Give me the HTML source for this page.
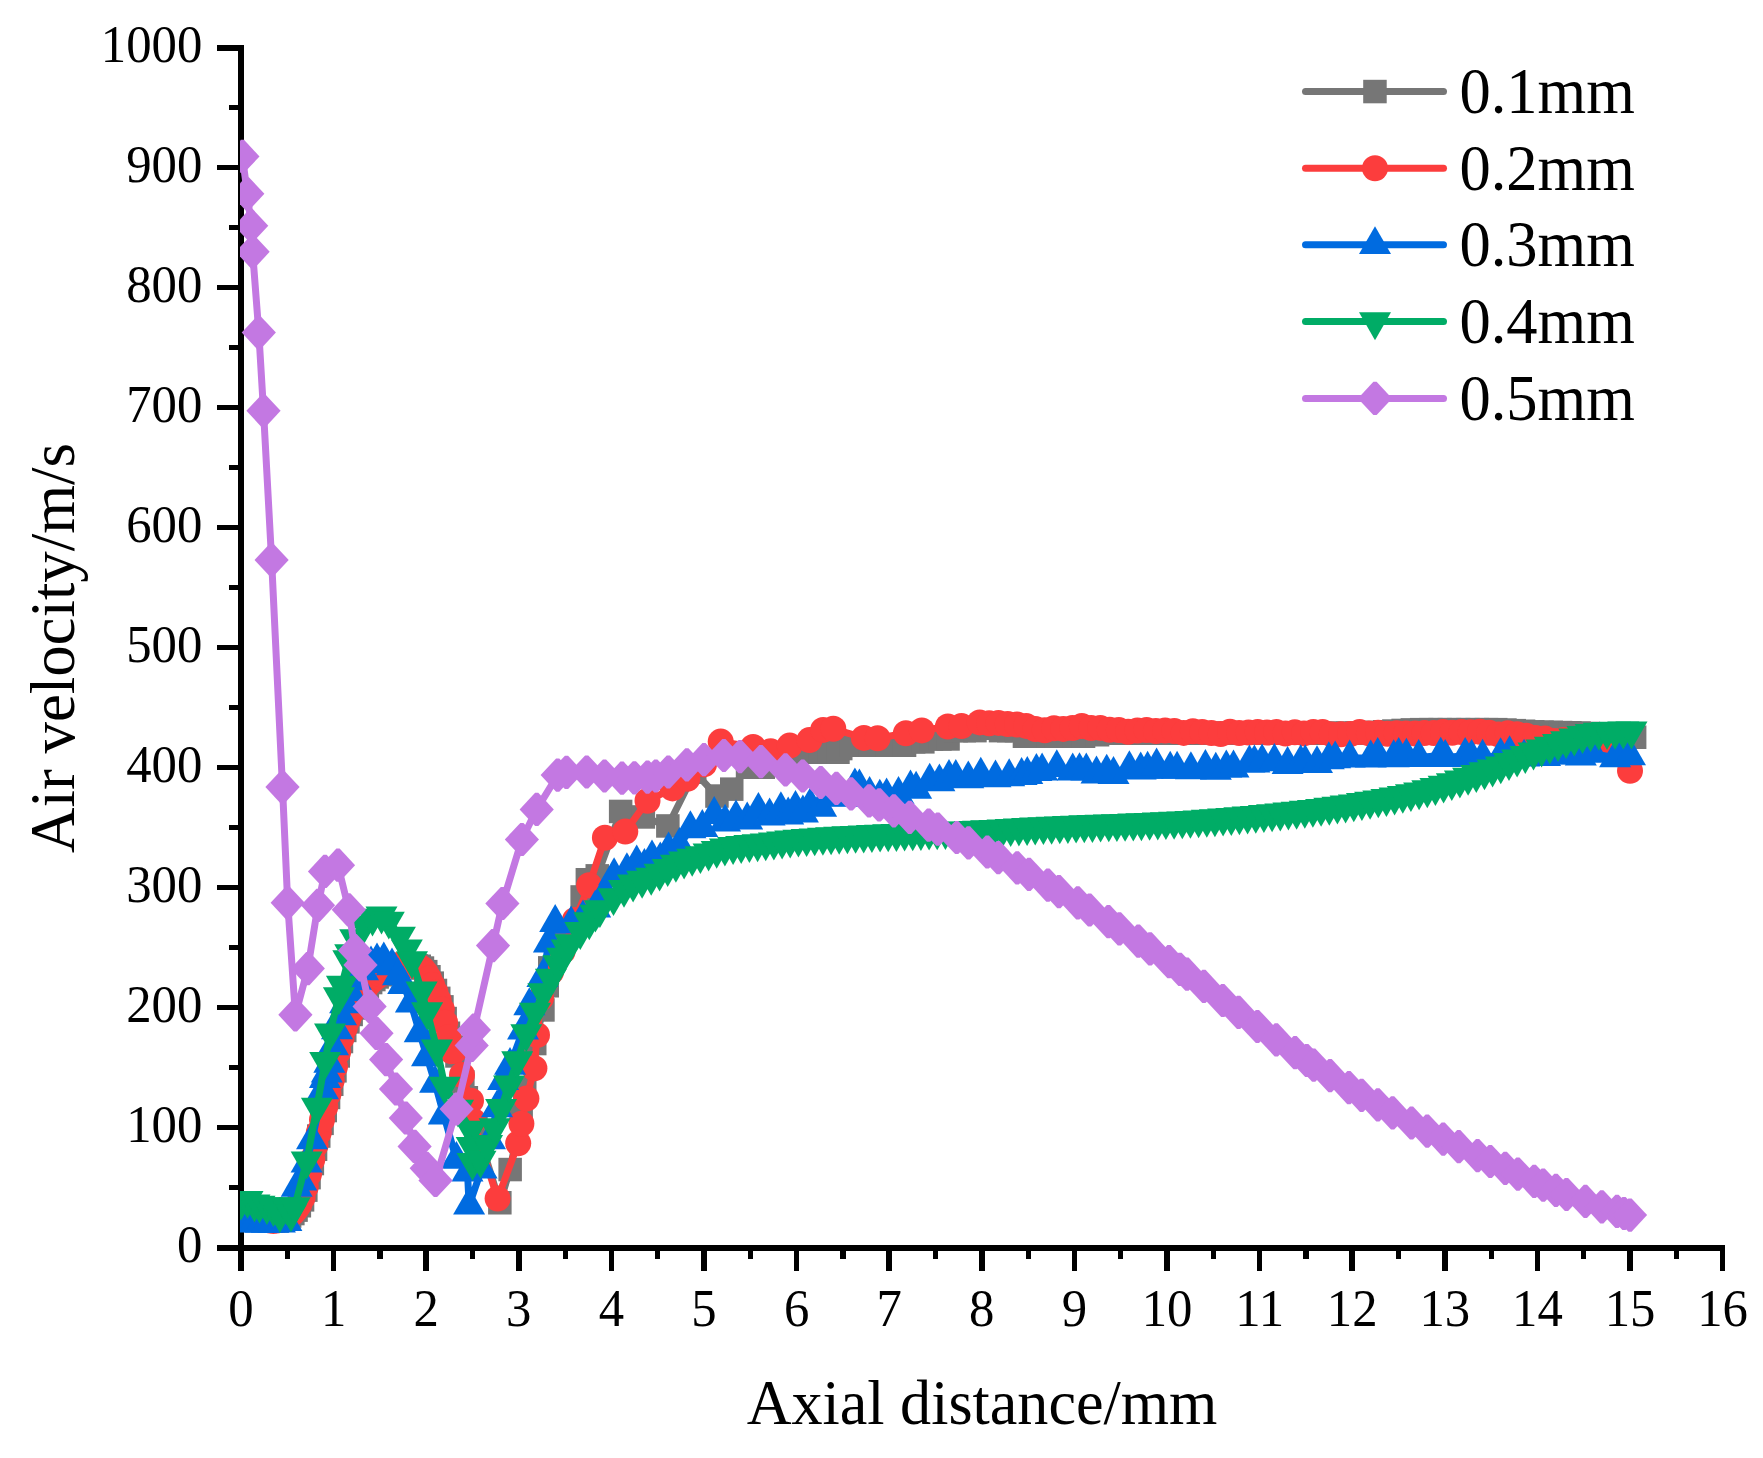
<!DOCTYPE html>
<html lang="en"><head><meta charset="utf-8"><title>Air velocity vs axial distance</title>
<style>
html,body{margin:0;padding:0;background:#fff;}
body{width:1763px;height:1458px;overflow:hidden;}
svg{display:block;}
text{font-family:"Liberation Serif","Times New Roman",serif;fill:#000;}
.tk{font-size:50.75px;}
.ti{font-size:62.1px;}
.tl{font-size:62.5px;}
.ty{font-size:62.8px;}
</style></head><body>
<svg width="1763" height="1458" viewBox="0 0 1763 1458">
<rect width="1763" height="1458" fill="#fff"/>
<defs><clipPath id="pc"><rect x="240" y="40" width="1500" height="1208.5"/></clipPath></defs>

<g fill="#000" shape-rendering="crispEdges">
<rect x="238" y="45" width="6" height="1206"/>
<rect x="217" y="1245" width="1508" height="5.5"/>
<rect x="229" y="1184.9" width="10" height="5.2"/>
<rect x="217" y="1124.9" width="22" height="5.2"/>
<rect x="229" y="1064.9" width="10" height="5.2"/>
<rect x="217" y="1004.9" width="22" height="5.2"/>
<rect x="229" y="944.9" width="10" height="5.2"/>
<rect x="217" y="884.9" width="22" height="5.2"/>
<rect x="229" y="824.9" width="10" height="5.2"/>
<rect x="217" y="764.9" width="22" height="5.2"/>
<rect x="229" y="704.9" width="10" height="5.2"/>
<rect x="217" y="644.9" width="22" height="5.2"/>
<rect x="229" y="584.9" width="10" height="5.2"/>
<rect x="217" y="524.9" width="22" height="5.2"/>
<rect x="229" y="464.9" width="10" height="5.2"/>
<rect x="217" y="404.9" width="22" height="5.2"/>
<rect x="229" y="344.9" width="10" height="5.2"/>
<rect x="217" y="284.9" width="22" height="5.2"/>
<rect x="229" y="224.9" width="10" height="5.2"/>
<rect x="217" y="164.9" width="22" height="5.2"/>
<rect x="229" y="104.9" width="10" height="5.2"/>
<rect x="217" y="44.9" width="22" height="6.2"/>
<rect x="238.0" y="1248" width="6" height="23"/>
<rect x="284.7" y="1248" width="5.2" height="11"/>
<rect x="330.9" y="1248" width="5.5" height="23"/>
<rect x="377.3" y="1248" width="5.2" height="11"/>
<rect x="423.4" y="1248" width="5.5" height="23"/>
<rect x="469.9" y="1248" width="5.2" height="11"/>
<rect x="516.0" y="1248" width="5.5" height="23"/>
<rect x="562.5" y="1248" width="5.2" height="11"/>
<rect x="608.6" y="1248" width="5.5" height="23"/>
<rect x="655.1" y="1248" width="5.2" height="11"/>
<rect x="701.2" y="1248" width="5.5" height="23"/>
<rect x="747.7" y="1248" width="5.2" height="11"/>
<rect x="793.8" y="1248" width="5.5" height="23"/>
<rect x="840.3" y="1248" width="5.2" height="11"/>
<rect x="886.4" y="1248" width="5.5" height="23"/>
<rect x="932.9" y="1248" width="5.2" height="11"/>
<rect x="979.0" y="1248" width="5.5" height="23"/>
<rect x="1025.5" y="1248" width="5.2" height="11"/>
<rect x="1071.7" y="1248" width="5.5" height="23"/>
<rect x="1118.1" y="1248" width="5.2" height="11"/>
<rect x="1164.2" y="1248" width="5.5" height="23"/>
<rect x="1210.7" y="1248" width="5.2" height="11"/>
<rect x="1256.8" y="1248" width="5.5" height="23"/>
<rect x="1303.3" y="1248" width="5.2" height="11"/>
<rect x="1349.4" y="1248" width="5.5" height="23"/>
<rect x="1395.9" y="1248" width="5.2" height="11"/>
<rect x="1442.0" y="1248" width="5.5" height="23"/>
<rect x="1488.5" y="1248" width="5.2" height="11"/>
<rect x="1534.6" y="1248" width="5.5" height="23"/>
<rect x="1581.1" y="1248" width="5.2" height="11"/>
<rect x="1627.2" y="1248" width="5.5" height="23"/>
<rect x="1673.7" y="1248" width="5.2" height="11"/>
<rect x="1719.8" y="1248" width="5.5" height="23"/>
</g>
<g class="tk" text-anchor="end">
<text transform="translate(202.3 1262.2) scale(1 1.03)">0</text>
<text transform="translate(202.3 1142.2) scale(1 1.03)">100</text>
<text transform="translate(202.3 1022.2) scale(1 1.03)">200</text>
<text transform="translate(202.3 902.2) scale(1 1.03)">300</text>
<text transform="translate(202.3 782.2) scale(1 1.03)">400</text>
<text transform="translate(202.3 662.2) scale(1 1.03)">500</text>
<text transform="translate(202.3 542.2) scale(1 1.03)">600</text>
<text transform="translate(202.3 422.2) scale(1 1.03)">700</text>
<text transform="translate(202.3 302.2) scale(1 1.03)">800</text>
<text transform="translate(202.3 182.2) scale(1 1.03)">900</text>
<text transform="translate(202.3 62.2) scale(1 1.03)">1000</text>
</g>
<g class="tk" text-anchor="middle">
<text transform="translate(241.0 1325.6) scale(1 1.03)">0</text>
<text transform="translate(333.6 1325.6) scale(1 1.03)">1</text>
<text transform="translate(426.2 1325.6) scale(1 1.03)">2</text>
<text transform="translate(518.8 1325.6) scale(1 1.03)">3</text>
<text transform="translate(611.4 1325.6) scale(1 1.03)">4</text>
<text transform="translate(704.0 1325.6) scale(1 1.03)">5</text>
<text transform="translate(796.6 1325.6) scale(1 1.03)">6</text>
<text transform="translate(889.2 1325.6) scale(1 1.03)">7</text>
<text transform="translate(981.8 1325.6) scale(1 1.03)">8</text>
<text transform="translate(1074.4 1325.6) scale(1 1.03)">9</text>
<text transform="translate(1167.0 1325.6) scale(1 1.03)">10</text>
<text transform="translate(1259.6 1325.6) scale(1 1.03)">11</text>
<text transform="translate(1352.2 1325.6) scale(1 1.03)">12</text>
<text transform="translate(1444.8 1325.6) scale(1 1.03)">13</text>
<text transform="translate(1537.4 1325.6) scale(1 1.03)">14</text>
<text transform="translate(1630.0 1325.6) scale(1 1.03)">15</text>
<text transform="translate(1722.6 1325.6) scale(1 1.03)">16</text>
</g>
<text class="ti" text-anchor="middle" transform="translate(982 1424) scale(1 1.03)">Axial distance/mm</text>
<text class="ty" text-anchor="middle" transform="translate(74 648) scale(1.02 1) rotate(-90)">Air velocity/m/s</text>
<g clip-path="url(#pc)">
<g fill="#767676" stroke="none">
<path d="M241.0 1212.0 L244.2 1213.2 L247.5 1214.4 L250.7 1215.5 L254.0 1216.5 L257.2 1217.4 L260.4 1218.2 L263.7 1219.1 L266.9 1219.9 L270.2 1220.5 L273.4 1220.9 L276.7 1220.7 L279.9 1220.1 L283.1 1219.0 L286.4 1217.6 L289.6 1216.1 L292.9 1213.6 L296.1 1210.1 L299.3 1205.7 L302.6 1199.9 L305.8 1190.2 L309.1 1177.6 L312.3 1163.5 L315.5 1149.2 L318.8 1136.0 L322.0 1123.4 L325.3 1110.5 L328.5 1097.5 L331.7 1084.3 L335.0 1070.8 L338.2 1056.0 L341.5 1041.5 L344.7 1030.5 L348.0 1021.9 L351.2 1014.5 L354.4 1007.9 L357.7 1002.0 L360.9 996.3 L364.2 991.1 L367.4 986.4 L370.6 982.5 L373.9 979.5 L377.1 977.0 L380.4 974.8 L383.6 972.8 L386.8 971.0 L390.1 969.2 L393.3 967.4 L396.6 965.8 L399.8 964.9 L403.1 964.8 L406.3 964.9 L409.5 965.1 L412.8 965.4 L416.0 965.8 L419.3 966.3 L422.5 968.1 L425.7 971.7 L429.0 976.8 L432.2 983.1 L435.5 990.4 L438.7 998.4 L441.9 1006.8 L445.2 1018.6 L448.4 1033.3 L451.7 1047.1 L457.0 1056.0 L462.8 1082.0 L466.4 1097.8 L476.0 1126.0 L499.8 1202.7 L510.1 1169.5 L521.1 1113.6 L524.7 1089.1 L534.8 1043.5 L543.0 1010.0 L547.3 985.8 L549.7 967.9 L565.0 935.0 L582.1 897.0 L587.4 879.7 L597.2 875.9 L620.7 811.4 L643.3 817.0 L667.9 826.0 L694.7 772.2 L717.0 796.1 L731.8 789.1 L747.5 767.3 L763.3 767.3 L782.7 757.2 L793.8 752.4 L805.4 752.3 L812.7 752.3 L820.0 752.3 L829.0 752.3 L838.0 752.3 L840.7 748.5 L851.4 745.3 L862.1 745.3 L870.4 745.3 L878.7 745.3 L887.0 745.3 L895.3 745.3 L904.5 745.3 L913.7 741.9 L922.9 741.9 L931.5 739.0 L940.0 739.0 L948.1 739.0 L956.1 730.6 L964.2 730.6 L975.0 730.6 L984.2 728.3 L992.4 728.3 L1000.5 730.6 L1008.7 730.6 L1016.6 730.6 L1024.4 736.3 L1032.3 736.3 L1040.2 736.3 L1048.0 736.3 L1055.9 736.3 L1065.1 736.3 L1074.4 736.3 L1083.6 736.3 L1097.5 734.8 L1106.8 733.2 L1116.1 733.2 L1125.3 733.2 L1134.6 733.2 L1143.8 733.2 L1153.1 733.2 L1162.4 733.2 L1171.6 733.2 L1180.9 733.2 L1190.2 733.2 L1199.4 733.2 L1208.7 733.2 L1217.9 733.2 L1227.2 733.2 L1236.4 733.2 L1245.7 733.2 L1255.0 733.2 L1264.2 733.2 L1273.5 733.2 L1282.8 733.2 L1292.0 733.2 L1301.3 733.2 L1310.5 733.2 L1319.8 733.2 L1329.0 733.2 L1338.3 733.2 L1347.6 733.2 L1356.8 733.2 L1366.1 732.9 L1375.3 732.4 L1384.6 731.7 L1393.9 731.1 L1403.1 730.4 L1412.4 729.9 L1421.6 729.6 L1430.9 729.6 L1440.2 729.6 L1449.4 729.6 L1458.7 729.6 L1467.9 729.6 L1477.2 729.6 L1486.5 729.6 L1495.7 729.7 L1505.0 730.0 L1514.2 730.6 L1523.5 731.2 L1532.8 731.8 L1542.0 732.1 L1551.3 732.4 L1560.5 732.6 L1569.8 732.8 L1579.1 733.0 L1588.3 733.4 L1597.6 733.9 L1606.8 734.6 L1616.1 735.4 L1625.4 736.3 L1634.6 737.3" fill="none" stroke="#767676" stroke-width="7" stroke-linejoin="round" stroke-linecap="round"/>
<rect x="229.2" y="1200.2" width="23.5" height="23.5"/>
<rect x="232.5" y="1201.5" width="23.5" height="23.5"/>
<rect x="235.7" y="1202.7" width="23.5" height="23.5"/>
<rect x="239.0" y="1203.8" width="23.5" height="23.5"/>
<rect x="242.2" y="1204.8" width="23.5" height="23.5"/>
<rect x="245.5" y="1205.7" width="23.5" height="23.5"/>
<rect x="248.7" y="1206.5" width="23.5" height="23.5"/>
<rect x="251.9" y="1207.3" width="23.5" height="23.5"/>
<rect x="255.2" y="1208.1" width="23.5" height="23.5"/>
<rect x="258.4" y="1208.8" width="23.5" height="23.5"/>
<rect x="261.7" y="1209.1" width="23.5" height="23.5"/>
<rect x="264.9" y="1209.0" width="23.5" height="23.5"/>
<rect x="268.1" y="1208.3" width="23.5" height="23.5"/>
<rect x="271.4" y="1207.2" width="23.5" height="23.5"/>
<rect x="274.6" y="1205.9" width="23.5" height="23.5"/>
<rect x="277.9" y="1204.3" width="23.5" height="23.5"/>
<rect x="281.1" y="1201.8" width="23.5" height="23.5"/>
<rect x="284.3" y="1198.4" width="23.5" height="23.5"/>
<rect x="287.6" y="1194.0" width="23.5" height="23.5"/>
<rect x="290.8" y="1188.1" width="23.5" height="23.5"/>
<rect x="294.1" y="1178.4" width="23.5" height="23.5"/>
<rect x="297.3" y="1165.9" width="23.5" height="23.5"/>
<rect x="300.6" y="1151.8" width="23.5" height="23.5"/>
<rect x="303.8" y="1137.5" width="23.5" height="23.5"/>
<rect x="307.0" y="1124.3" width="23.5" height="23.5"/>
<rect x="310.3" y="1111.6" width="23.5" height="23.5"/>
<rect x="313.5" y="1098.8" width="23.5" height="23.5"/>
<rect x="316.8" y="1085.7" width="23.5" height="23.5"/>
<rect x="320.0" y="1072.5" width="23.5" height="23.5"/>
<rect x="323.2" y="1059.1" width="23.5" height="23.5"/>
<rect x="326.5" y="1044.2" width="23.5" height="23.5"/>
<rect x="329.7" y="1029.8" width="23.5" height="23.5"/>
<rect x="333.0" y="1018.7" width="23.5" height="23.5"/>
<rect x="336.2" y="1010.1" width="23.5" height="23.5"/>
<rect x="339.4" y="1002.7" width="23.5" height="23.5"/>
<rect x="342.7" y="996.2" width="23.5" height="23.5"/>
<rect x="345.9" y="990.2" width="23.5" height="23.5"/>
<rect x="349.2" y="984.6" width="23.5" height="23.5"/>
<rect x="352.4" y="979.3" width="23.5" height="23.5"/>
<rect x="355.6" y="974.6" width="23.5" height="23.5"/>
<rect x="358.9" y="970.8" width="23.5" height="23.5"/>
<rect x="362.1" y="967.8" width="23.5" height="23.5"/>
<rect x="365.4" y="965.2" width="23.5" height="23.5"/>
<rect x="368.6" y="963.0" width="23.5" height="23.5"/>
<rect x="371.9" y="961.1" width="23.5" height="23.5"/>
<rect x="375.1" y="959.3" width="23.5" height="23.5"/>
<rect x="378.3" y="957.5" width="23.5" height="23.5"/>
<rect x="381.6" y="955.6" width="23.5" height="23.5"/>
<rect x="384.8" y="954.1" width="23.5" height="23.5"/>
<rect x="388.1" y="953.2" width="23.5" height="23.5"/>
<rect x="391.3" y="953.1" width="23.5" height="23.5"/>
<rect x="394.5" y="953.2" width="23.5" height="23.5"/>
<rect x="397.8" y="953.4" width="23.5" height="23.5"/>
<rect x="401.0" y="953.7" width="23.5" height="23.5"/>
<rect x="404.3" y="954.0" width="23.5" height="23.5"/>
<rect x="407.5" y="954.5" width="23.5" height="23.5"/>
<rect x="410.7" y="956.3" width="23.5" height="23.5"/>
<rect x="414.0" y="959.9" width="23.5" height="23.5"/>
<rect x="417.2" y="965.0" width="23.5" height="23.5"/>
<rect x="420.5" y="971.4" width="23.5" height="23.5"/>
<rect x="423.7" y="978.7" width="23.5" height="23.5"/>
<rect x="427.0" y="986.6" width="23.5" height="23.5"/>
<rect x="430.2" y="995.1" width="23.5" height="23.5"/>
<rect x="433.4" y="1006.8" width="23.5" height="23.5"/>
<rect x="436.7" y="1021.5" width="23.5" height="23.5"/>
<rect x="439.9" y="1035.3" width="23.5" height="23.5"/>
<rect x="445.2" y="1044.2" width="23.5" height="23.5"/>
<rect x="451.1" y="1070.2" width="23.5" height="23.5"/>
<rect x="454.6" y="1086.0" width="23.5" height="23.5"/>
<rect x="464.2" y="1114.2" width="23.5" height="23.5"/>
<rect x="488.1" y="1191.0" width="23.5" height="23.5"/>
<rect x="498.4" y="1157.8" width="23.5" height="23.5"/>
<rect x="509.4" y="1101.8" width="23.5" height="23.5"/>
<rect x="513.0" y="1077.3" width="23.5" height="23.5"/>
<rect x="523.0" y="1031.8" width="23.5" height="23.5"/>
<rect x="531.2" y="998.2" width="23.5" height="23.5"/>
<rect x="535.5" y="974.0" width="23.5" height="23.5"/>
<rect x="538.0" y="956.1" width="23.5" height="23.5"/>
<rect x="553.2" y="923.2" width="23.5" height="23.5"/>
<rect x="570.4" y="885.2" width="23.5" height="23.5"/>
<rect x="575.6" y="868.0" width="23.5" height="23.5"/>
<rect x="585.5" y="864.1" width="23.5" height="23.5"/>
<rect x="608.9" y="799.7" width="23.5" height="23.5"/>
<rect x="631.6" y="805.2" width="23.5" height="23.5"/>
<rect x="656.1" y="814.2" width="23.5" height="23.5"/>
<rect x="683.0" y="760.5" width="23.5" height="23.5"/>
<rect x="705.2" y="784.3" width="23.5" height="23.5"/>
<rect x="720.0" y="777.4" width="23.5" height="23.5"/>
<rect x="735.8" y="755.5" width="23.5" height="23.5"/>
<rect x="751.5" y="755.5" width="23.5" height="23.5"/>
<rect x="771.0" y="745.5" width="23.5" height="23.5"/>
<rect x="782.1" y="740.7" width="23.5" height="23.5"/>
<rect x="793.6" y="740.5" width="23.5" height="23.5"/>
<rect x="801.0" y="740.5" width="23.5" height="23.5"/>
<rect x="808.2" y="740.5" width="23.5" height="23.5"/>
<rect x="817.2" y="740.5" width="23.5" height="23.5"/>
<rect x="826.2" y="740.5" width="23.5" height="23.5"/>
<rect x="829.0" y="736.8" width="23.5" height="23.5"/>
<rect x="839.7" y="733.5" width="23.5" height="23.5"/>
<rect x="850.4" y="733.5" width="23.5" height="23.5"/>
<rect x="858.6" y="733.5" width="23.5" height="23.5"/>
<rect x="867.0" y="733.5" width="23.5" height="23.5"/>
<rect x="875.2" y="733.5" width="23.5" height="23.5"/>
<rect x="883.5" y="733.5" width="23.5" height="23.5"/>
<rect x="892.8" y="733.5" width="23.5" height="23.5"/>
<rect x="901.9" y="730.1" width="23.5" height="23.5"/>
<rect x="911.1" y="730.1" width="23.5" height="23.5"/>
<rect x="919.7" y="727.2" width="23.5" height="23.5"/>
<rect x="928.2" y="727.2" width="23.5" height="23.5"/>
<rect x="936.3" y="727.2" width="23.5" height="23.5"/>
<rect x="944.4" y="718.9" width="23.5" height="23.5"/>
<rect x="952.5" y="718.9" width="23.5" height="23.5"/>
<rect x="963.2" y="718.9" width="23.5" height="23.5"/>
<rect x="972.5" y="716.5" width="23.5" height="23.5"/>
<rect x="980.6" y="716.5" width="23.5" height="23.5"/>
<rect x="988.8" y="718.9" width="23.5" height="23.5"/>
<rect x="997.0" y="718.9" width="23.5" height="23.5"/>
<rect x="1004.8" y="718.9" width="23.5" height="23.5"/>
<rect x="1012.7" y="724.5" width="23.5" height="23.5"/>
<rect x="1020.5" y="724.5" width="23.5" height="23.5"/>
<rect x="1028.4" y="724.5" width="23.5" height="23.5"/>
<rect x="1036.3" y="724.5" width="23.5" height="23.5"/>
<rect x="1044.2" y="724.5" width="23.5" height="23.5"/>
<rect x="1053.4" y="724.5" width="23.5" height="23.5"/>
<rect x="1062.6" y="724.5" width="23.5" height="23.5"/>
<rect x="1071.8" y="724.5" width="23.5" height="23.5"/>
<rect x="1085.8" y="723.0" width="23.5" height="23.5"/>
<rect x="1095.1" y="721.5" width="23.5" height="23.5"/>
<rect x="1104.3" y="721.5" width="23.5" height="23.5"/>
<rect x="1113.6" y="721.5" width="23.5" height="23.5"/>
<rect x="1122.8" y="721.5" width="23.5" height="23.5"/>
<rect x="1132.1" y="721.5" width="23.5" height="23.5"/>
<rect x="1141.4" y="721.5" width="23.5" height="23.5"/>
<rect x="1150.6" y="721.5" width="23.5" height="23.5"/>
<rect x="1159.9" y="721.5" width="23.5" height="23.5"/>
<rect x="1169.1" y="721.5" width="23.5" height="23.5"/>
<rect x="1178.4" y="721.5" width="23.5" height="23.5"/>
<rect x="1187.7" y="721.5" width="23.5" height="23.5"/>
<rect x="1196.9" y="721.5" width="23.5" height="23.5"/>
<rect x="1206.2" y="721.5" width="23.5" height="23.5"/>
<rect x="1215.4" y="721.5" width="23.5" height="23.5"/>
<rect x="1224.7" y="721.5" width="23.5" height="23.5"/>
<rect x="1234.0" y="721.5" width="23.5" height="23.5"/>
<rect x="1243.2" y="721.5" width="23.5" height="23.5"/>
<rect x="1252.5" y="721.5" width="23.5" height="23.5"/>
<rect x="1261.7" y="721.5" width="23.5" height="23.5"/>
<rect x="1271.0" y="721.5" width="23.5" height="23.5"/>
<rect x="1280.3" y="721.5" width="23.5" height="23.5"/>
<rect x="1289.5" y="721.5" width="23.5" height="23.5"/>
<rect x="1298.8" y="721.5" width="23.5" height="23.5"/>
<rect x="1308.0" y="721.5" width="23.5" height="23.5"/>
<rect x="1317.3" y="721.5" width="23.5" height="23.5"/>
<rect x="1326.6" y="721.5" width="23.5" height="23.5"/>
<rect x="1335.8" y="721.5" width="23.5" height="23.5"/>
<rect x="1345.1" y="721.4" width="23.5" height="23.5"/>
<rect x="1354.3" y="721.1" width="23.5" height="23.5"/>
<rect x="1363.6" y="720.6" width="23.5" height="23.5"/>
<rect x="1372.9" y="720.0" width="23.5" height="23.5"/>
<rect x="1382.1" y="719.3" width="23.5" height="23.5"/>
<rect x="1391.4" y="718.7" width="23.5" height="23.5"/>
<rect x="1400.6" y="718.2" width="23.5" height="23.5"/>
<rect x="1409.9" y="717.9" width="23.5" height="23.5"/>
<rect x="1419.2" y="717.9" width="23.5" height="23.5"/>
<rect x="1428.4" y="717.9" width="23.5" height="23.5"/>
<rect x="1437.7" y="717.9" width="23.5" height="23.5"/>
<rect x="1446.9" y="717.9" width="23.5" height="23.5"/>
<rect x="1456.2" y="717.9" width="23.5" height="23.5"/>
<rect x="1465.5" y="717.9" width="23.5" height="23.5"/>
<rect x="1474.7" y="717.9" width="23.5" height="23.5"/>
<rect x="1484.0" y="717.9" width="23.5" height="23.5"/>
<rect x="1493.2" y="718.3" width="23.5" height="23.5"/>
<rect x="1502.5" y="718.9" width="23.5" height="23.5"/>
<rect x="1511.8" y="719.5" width="23.5" height="23.5"/>
<rect x="1521.0" y="720.1" width="23.5" height="23.5"/>
<rect x="1530.3" y="720.4" width="23.5" height="23.5"/>
<rect x="1539.5" y="720.6" width="23.5" height="23.5"/>
<rect x="1548.8" y="720.8" width="23.5" height="23.5"/>
<rect x="1558.1" y="721.0" width="23.5" height="23.5"/>
<rect x="1567.3" y="721.3" width="23.5" height="23.5"/>
<rect x="1576.6" y="721.7" width="23.5" height="23.5"/>
<rect x="1585.8" y="722.2" width="23.5" height="23.5"/>
<rect x="1595.1" y="722.9" width="23.5" height="23.5"/>
<rect x="1604.4" y="723.7" width="23.5" height="23.5"/>
<rect x="1613.6" y="724.6" width="23.5" height="23.5"/>
<rect x="1622.9" y="725.5" width="23.5" height="23.5"/>
</g>
<g fill="#FC3D3D" stroke="none">
<path d="M241.0 1212.0 L244.2 1213.2 L247.5 1214.4 L250.7 1215.5 L254.0 1216.5 L257.2 1217.4 L260.4 1218.2 L263.7 1219.1 L266.9 1220.0 L270.2 1220.6 L273.4 1220.9 L276.7 1220.6 L279.9 1219.8 L283.1 1218.6 L286.4 1217.2 L289.6 1215.5 L292.9 1212.7 L296.1 1209.0 L299.3 1204.3 L302.6 1197.5 L305.8 1186.8 L309.1 1173.7 L312.3 1159.4 L315.5 1145.3 L318.8 1132.4 L322.0 1119.7 L325.3 1106.8 L328.5 1093.7 L331.7 1080.5 L335.0 1066.8 L338.2 1051.7 L341.5 1037.9 L344.7 1027.9 L348.0 1019.6 L351.2 1012.5 L354.4 1006.2 L357.7 1000.4 L360.9 994.8 L364.2 989.7 L367.4 985.2 L370.6 981.6 L373.9 978.8 L377.1 976.3 L380.4 974.2 L383.6 972.3 L386.8 970.6 L390.1 968.7 L393.3 966.9 L396.6 965.5 L399.8 964.8 L403.1 964.8 L406.3 965.0 L409.5 965.2 L412.8 965.5 L416.0 965.9 L419.3 966.6 L422.5 968.9 L425.7 973.0 L429.0 978.5 L432.2 985.1 L435.5 992.6 L438.7 1000.8 L441.9 1009.6 L445.2 1022.7 L448.4 1037.3 L451.7 1051.3 L455.0 1050.0 L462.0 1075.0 L471.0 1100.7 L473.1 1120.8 L497.6 1198.6 L518.2 1143.2 L521.4 1123.7 L526.4 1098.5 L534.4 1068.3 L537.0 1035.0 L541.0 998.0 L551.0 972.0 L562.6 951.4 L575.0 920.0 L589.2 885.2 L604.9 837.8 L625.3 831.6 L647.5 800.8 L672.5 788.4 L687.3 778.8 L704.0 764.4 L720.7 741.6 L753.1 747.0 L770.7 751.2 L789.7 745.6 L809.5 740.1 L823.1 729.9 L833.3 728.8 L863.9 737.9 L877.6 738.3 L905.9 733.3 L921.8 730.4 L947.9 726.5 L961.5 726.1 L979.7 722.4 L989.2 723.2 L998.5 722.9 L1007.7 724.0 L1017.0 724.5 L1026.2 725.9 L1035.5 729.0 L1044.8 730.3 L1054.0 728.2 L1063.3 728.9 L1072.5 728.0 L1081.8 726.0 L1091.1 728.1 L1100.3 727.9 L1109.6 729.8 L1118.8 730.0 L1128.1 731.7 L1137.4 730.5 L1146.6 730.0 L1155.9 731.1 L1165.1 730.6 L1174.4 731.0 L1183.7 732.9 L1192.9 731.2 L1202.2 731.9 L1211.4 733.0 L1220.7 734.0 L1230.0 731.8 L1239.2 733.1 L1248.5 732.5 L1257.7 732.1 L1267.0 732.6 L1276.3 732.0 L1285.5 733.5 L1294.8 732.3 L1304.0 733.4 L1313.3 731.9 L1322.6 732.1 L1331.8 734.4 L1341.1 734.2 L1350.3 734.0 L1359.6 731.9 L1368.9 733.4 L1378.1 732.8 L1387.4 733.8 L1396.6 733.2 L1405.9 733.5 L1415.2 733.6 L1424.4 733.0 L1433.7 733.0 L1442.9 732.0 L1452.2 732.7 L1461.5 732.0 L1470.7 732.2 L1480.0 731.8 L1489.2 732.7 L1498.5 734.4 L1507.8 733.3 L1517.0 734.2 L1526.3 735.8 L1535.5 738.0 L1544.8 738.5 L1554.1 740.9 L1563.3 740.0 L1572.6 741.7 L1581.8 743.3 L1591.1 744.6 L1600.4 743.0 L1630.0 770.8" fill="none" stroke="#FC3D3D" stroke-width="7" stroke-linejoin="round" stroke-linecap="round"/>
<circle cx="241.0" cy="1212.0" r="13"/>
<circle cx="244.2" cy="1213.2" r="13"/>
<circle cx="247.5" cy="1214.4" r="13"/>
<circle cx="250.7" cy="1215.5" r="13"/>
<circle cx="254.0" cy="1216.5" r="13"/>
<circle cx="257.2" cy="1217.4" r="13"/>
<circle cx="260.4" cy="1218.2" r="13"/>
<circle cx="263.7" cy="1219.1" r="13"/>
<circle cx="266.9" cy="1220.0" r="13"/>
<circle cx="270.2" cy="1220.6" r="13"/>
<circle cx="273.4" cy="1220.9" r="13"/>
<circle cx="276.7" cy="1220.6" r="13"/>
<circle cx="279.9" cy="1219.8" r="13"/>
<circle cx="283.1" cy="1218.6" r="13"/>
<circle cx="286.4" cy="1217.2" r="13"/>
<circle cx="289.6" cy="1215.5" r="13"/>
<circle cx="292.9" cy="1212.7" r="13"/>
<circle cx="296.1" cy="1209.0" r="13"/>
<circle cx="299.3" cy="1204.3" r="13"/>
<circle cx="302.6" cy="1197.5" r="13"/>
<circle cx="305.8" cy="1186.8" r="13"/>
<circle cx="309.1" cy="1173.7" r="13"/>
<circle cx="312.3" cy="1159.4" r="13"/>
<circle cx="315.5" cy="1145.3" r="13"/>
<circle cx="318.8" cy="1132.4" r="13"/>
<circle cx="322.0" cy="1119.7" r="13"/>
<circle cx="325.3" cy="1106.8" r="13"/>
<circle cx="328.5" cy="1093.7" r="13"/>
<circle cx="331.7" cy="1080.5" r="13"/>
<circle cx="335.0" cy="1066.8" r="13"/>
<circle cx="338.2" cy="1051.7" r="13"/>
<circle cx="341.5" cy="1037.9" r="13"/>
<circle cx="344.7" cy="1027.9" r="13"/>
<circle cx="348.0" cy="1019.6" r="13"/>
<circle cx="351.2" cy="1012.5" r="13"/>
<circle cx="354.4" cy="1006.2" r="13"/>
<circle cx="357.7" cy="1000.4" r="13"/>
<circle cx="360.9" cy="994.8" r="13"/>
<circle cx="364.2" cy="989.7" r="13"/>
<circle cx="367.4" cy="985.2" r="13"/>
<circle cx="370.6" cy="981.6" r="13"/>
<circle cx="373.9" cy="978.8" r="13"/>
<circle cx="377.1" cy="976.3" r="13"/>
<circle cx="380.4" cy="974.2" r="13"/>
<circle cx="383.6" cy="972.3" r="13"/>
<circle cx="386.8" cy="970.6" r="13"/>
<circle cx="390.1" cy="968.7" r="13"/>
<circle cx="393.3" cy="966.9" r="13"/>
<circle cx="396.6" cy="965.5" r="13"/>
<circle cx="399.8" cy="964.8" r="13"/>
<circle cx="403.1" cy="964.8" r="13"/>
<circle cx="406.3" cy="965.0" r="13"/>
<circle cx="409.5" cy="965.2" r="13"/>
<circle cx="412.8" cy="965.5" r="13"/>
<circle cx="416.0" cy="965.9" r="13"/>
<circle cx="419.3" cy="966.6" r="13"/>
<circle cx="422.5" cy="968.9" r="13"/>
<circle cx="425.7" cy="973.0" r="13"/>
<circle cx="429.0" cy="978.5" r="13"/>
<circle cx="432.2" cy="985.1" r="13"/>
<circle cx="435.5" cy="992.6" r="13"/>
<circle cx="438.7" cy="1000.8" r="13"/>
<circle cx="441.9" cy="1009.6" r="13"/>
<circle cx="445.2" cy="1022.7" r="13"/>
<circle cx="448.4" cy="1037.3" r="13"/>
<circle cx="451.7" cy="1051.3" r="13"/>
<circle cx="455.0" cy="1050.0" r="13"/>
<circle cx="462.0" cy="1075.0" r="13"/>
<circle cx="471.0" cy="1100.7" r="13"/>
<circle cx="473.1" cy="1120.8" r="13"/>
<circle cx="497.6" cy="1198.6" r="13"/>
<circle cx="518.2" cy="1143.2" r="13"/>
<circle cx="521.4" cy="1123.7" r="13"/>
<circle cx="526.4" cy="1098.5" r="13"/>
<circle cx="534.4" cy="1068.3" r="13"/>
<circle cx="537.0" cy="1035.0" r="13"/>
<circle cx="541.0" cy="998.0" r="13"/>
<circle cx="551.0" cy="972.0" r="13"/>
<circle cx="562.6" cy="951.4" r="13"/>
<circle cx="575.0" cy="920.0" r="13"/>
<circle cx="589.2" cy="885.2" r="13"/>
<circle cx="604.9" cy="837.8" r="13"/>
<circle cx="625.3" cy="831.6" r="13"/>
<circle cx="647.5" cy="800.8" r="13"/>
<circle cx="672.5" cy="788.4" r="13"/>
<circle cx="687.3" cy="778.8" r="13"/>
<circle cx="704.0" cy="764.4" r="13"/>
<circle cx="720.7" cy="741.6" r="13"/>
<circle cx="753.1" cy="747.0" r="13"/>
<circle cx="770.7" cy="751.2" r="13"/>
<circle cx="789.7" cy="745.6" r="13"/>
<circle cx="809.5" cy="740.1" r="13"/>
<circle cx="823.1" cy="729.9" r="13"/>
<circle cx="833.3" cy="728.8" r="13"/>
<circle cx="863.9" cy="737.9" r="13"/>
<circle cx="877.6" cy="738.3" r="13"/>
<circle cx="905.9" cy="733.3" r="13"/>
<circle cx="921.8" cy="730.4" r="13"/>
<circle cx="947.9" cy="726.5" r="13"/>
<circle cx="961.5" cy="726.1" r="13"/>
<circle cx="979.7" cy="722.4" r="13"/>
<circle cx="989.2" cy="723.2" r="13"/>
<circle cx="998.5" cy="722.9" r="13"/>
<circle cx="1007.7" cy="724.0" r="13"/>
<circle cx="1017.0" cy="724.5" r="13"/>
<circle cx="1026.2" cy="725.9" r="13"/>
<circle cx="1035.5" cy="729.0" r="13"/>
<circle cx="1044.8" cy="730.3" r="13"/>
<circle cx="1054.0" cy="728.2" r="13"/>
<circle cx="1063.3" cy="728.9" r="13"/>
<circle cx="1072.5" cy="728.0" r="13"/>
<circle cx="1081.8" cy="726.0" r="13"/>
<circle cx="1091.1" cy="728.1" r="13"/>
<circle cx="1100.3" cy="727.9" r="13"/>
<circle cx="1109.6" cy="729.8" r="13"/>
<circle cx="1118.8" cy="730.0" r="13"/>
<circle cx="1128.1" cy="731.7" r="13"/>
<circle cx="1137.4" cy="730.5" r="13"/>
<circle cx="1146.6" cy="730.0" r="13"/>
<circle cx="1155.9" cy="731.1" r="13"/>
<circle cx="1165.1" cy="730.6" r="13"/>
<circle cx="1174.4" cy="731.0" r="13"/>
<circle cx="1183.7" cy="732.9" r="13"/>
<circle cx="1192.9" cy="731.2" r="13"/>
<circle cx="1202.2" cy="731.9" r="13"/>
<circle cx="1211.4" cy="733.0" r="13"/>
<circle cx="1220.7" cy="734.0" r="13"/>
<circle cx="1230.0" cy="731.8" r="13"/>
<circle cx="1239.2" cy="733.1" r="13"/>
<circle cx="1248.5" cy="732.5" r="13"/>
<circle cx="1257.7" cy="732.1" r="13"/>
<circle cx="1267.0" cy="732.6" r="13"/>
<circle cx="1276.3" cy="732.0" r="13"/>
<circle cx="1285.5" cy="733.5" r="13"/>
<circle cx="1294.8" cy="732.3" r="13"/>
<circle cx="1304.0" cy="733.4" r="13"/>
<circle cx="1313.3" cy="731.9" r="13"/>
<circle cx="1322.6" cy="732.1" r="13"/>
<circle cx="1331.8" cy="734.4" r="13"/>
<circle cx="1341.1" cy="734.2" r="13"/>
<circle cx="1350.3" cy="734.0" r="13"/>
<circle cx="1359.6" cy="731.9" r="13"/>
<circle cx="1368.9" cy="733.4" r="13"/>
<circle cx="1378.1" cy="732.8" r="13"/>
<circle cx="1387.4" cy="733.8" r="13"/>
<circle cx="1396.6" cy="733.2" r="13"/>
<circle cx="1405.9" cy="733.5" r="13"/>
<circle cx="1415.2" cy="733.6" r="13"/>
<circle cx="1424.4" cy="733.0" r="13"/>
<circle cx="1433.7" cy="733.0" r="13"/>
<circle cx="1442.9" cy="732.0" r="13"/>
<circle cx="1452.2" cy="732.7" r="13"/>
<circle cx="1461.5" cy="732.0" r="13"/>
<circle cx="1470.7" cy="732.2" r="13"/>
<circle cx="1480.0" cy="731.8" r="13"/>
<circle cx="1489.2" cy="732.7" r="13"/>
<circle cx="1498.5" cy="734.4" r="13"/>
<circle cx="1507.8" cy="733.3" r="13"/>
<circle cx="1517.0" cy="734.2" r="13"/>
<circle cx="1526.3" cy="735.8" r="13"/>
<circle cx="1535.5" cy="738.0" r="13"/>
<circle cx="1544.8" cy="738.5" r="13"/>
<circle cx="1554.1" cy="740.9" r="13"/>
<circle cx="1563.3" cy="740.0" r="13"/>
<circle cx="1572.6" cy="741.7" r="13"/>
<circle cx="1581.8" cy="743.3" r="13"/>
<circle cx="1591.1" cy="744.6" r="13"/>
<circle cx="1600.4" cy="743.0" r="13"/>
<circle cx="1630.0" cy="770.8" r="13"/>
</g>
<g fill="#006BE0" stroke="none">
<path d="M241.0 1220.2 L247.5 1222.3 L254.0 1223.2 L260.4 1223.4 L266.9 1223.4 L273.4 1223.4 L279.9 1223.3 L286.4 1221.8 L296.7 1187.4 L301.2 1181.1 L306.6 1163.3 L312.0 1140.0 L322.9 1090.0 L324.9 1078.6 L326.8 1073.3 L329.3 1063.4 L333.0 1046.0 L337.0 1030.0 L341.0 1016.0 L345.1 1003.9 L350.0 992.0 L356.0 981.0 L363.0 971.0 L371.0 964.0 L377.0 961.0 L383.8 960.0 L392.0 966.0 L398.0 976.0 L403.2 984.6 L410.9 1003.2 L419.7 1032.9 L427.0 1057.0 L435.1 1083.4 L443.8 1115.2 L456.4 1159.5 L467.5 1172.1 L469.1 1205.3 L481.6 1169.2 L490.0 1140.0 L497.0 1108.0 L503.1 1080.6 L510.0 1065.5 L523.0 1030.2 L529.3 1005.9 L542.4 977.7 L548.9 943.2 L555.2 922.6 L571.1 924.2 L583.0 918.0 L595.2 908.3 L605.0 893.0 L614.1 875.9 L626.9 870.9 L636.7 863.1 L644.4 866.5 L652.0 858.0 L660.3 860.0 L668.6 850.0 L679.5 845.5 L690.4 828.9 L702.3 827.8 L714.2 814.6 L725.1 822.3 L736.0 818.0 L747.2 820.2 L758.4 810.5 L769.6 816.2 L780.9 809.9 L788.2 815.2 L795.5 808.5 L802.9 813.1 L810.2 805.8 L821.1 807.4 L832.0 797.0 L843.5 797.5 L854.9 786.0 L859.4 787.1 L869.6 794.7 L879.8 797.3 L886.6 796.2 L898.5 794.7 L910.5 788.2 L916.1 789.4 L929.7 781.4 L939.4 782.0 L949.0 777.6 L955.8 777.6 L968.3 779.0 L980.8 775.3 L995.5 778.0 L1009.2 776.9 L1021.6 775.7 L1027.3 774.6 L1036.4 771.7 L1042.1 771.2 L1056.8 767.8 L1072.7 771.2 L1079.5 770.8 L1086.3 771.2 L1096.5 774.2 L1106.7 772.3 L1113.5 774.6 L1129.4 768.9 L1140.7 770.1 L1147.6 769.4 L1156.6 766.2 L1170.2 769.4 L1177.1 769.4 L1190.9 769.9 L1205.4 767.6 L1215.8 770.4 L1226.3 768.1 L1233.5 768.1 L1249.4 763.1 L1254.4 763.1 L1262.1 762.0 L1274.4 761.7 L1287.6 764.8 L1300.7 762.8 L1305.2 762.8 L1317.0 763.8 L1328.8 759.9 L1335.2 759.0 L1349.7 758.1 L1370.7 758.1 L1377.7 755.5 L1393.7 757.9 L1398.7 755.6 L1406.4 756.3 L1418.7 757.6 L1440.7 755.4 L1445.2 757.6 L1465.2 755.7 L1471.6 757.5 L1482.6 757.4 L1500.6 755.8 L1509.6 753.9 L1524.1 757.3 L1545.1 756.8 L1552.1 754.9 L1568.1 753.4 L1573.1 755.2 L1580.8 756.1 L1593.1 753.4 L1615.1 758.0 L1619.6 754.2 L1630.0 756.0" fill="none" stroke="#006BE0" stroke-width="7" stroke-linejoin="round" stroke-linecap="round"/>
<path d="M241.0 1201.6l16 27.9h-32z"/>
<path d="M247.5 1203.7l16 27.9h-32z"/>
<path d="M254.0 1204.6l16 27.9h-32z"/>
<path d="M260.4 1204.8l16 27.9h-32z"/>
<path d="M266.9 1204.8l16 27.9h-32z"/>
<path d="M273.4 1204.8l16 27.9h-32z"/>
<path d="M279.9 1204.7l16 27.9h-32z"/>
<path d="M286.4 1203.2l16 27.9h-32z"/>
<path d="M296.7 1168.8l16 27.9h-32z"/>
<path d="M301.2 1162.5l16 27.9h-32z"/>
<path d="M306.6 1144.7l16 27.9h-32z"/>
<path d="M312.0 1121.4l16 27.9h-32z"/>
<path d="M322.9 1071.4l16 27.9h-32z"/>
<path d="M324.9 1060.0l16 27.9h-32z"/>
<path d="M326.8 1054.7l16 27.9h-32z"/>
<path d="M329.3 1044.8l16 27.9h-32z"/>
<path d="M333.0 1027.4l16 27.9h-32z"/>
<path d="M337.0 1011.4l16 27.9h-32z"/>
<path d="M341.0 997.4l16 27.9h-32z"/>
<path d="M345.1 985.3l16 27.9h-32z"/>
<path d="M350.0 973.4l16 27.9h-32z"/>
<path d="M356.0 962.4l16 27.9h-32z"/>
<path d="M363.0 952.4l16 27.9h-32z"/>
<path d="M371.0 945.4l16 27.9h-32z"/>
<path d="M377.0 942.4l16 27.9h-32z"/>
<path d="M383.8 941.4l16 27.9h-32z"/>
<path d="M392.0 947.4l16 27.9h-32z"/>
<path d="M398.0 957.4l16 27.9h-32z"/>
<path d="M403.2 966.0l16 27.9h-32z"/>
<path d="M410.9 984.6l16 27.9h-32z"/>
<path d="M419.7 1014.3l16 27.9h-32z"/>
<path d="M427.0 1038.4l16 27.9h-32z"/>
<path d="M435.1 1064.8l16 27.9h-32z"/>
<path d="M443.8 1096.6l16 27.9h-32z"/>
<path d="M456.4 1140.9l16 27.9h-32z"/>
<path d="M467.5 1153.5l16 27.9h-32z"/>
<path d="M469.1 1186.7l16 27.9h-32z"/>
<path d="M481.6 1150.6l16 27.9h-32z"/>
<path d="M490.0 1121.4l16 27.9h-32z"/>
<path d="M497.0 1089.4l16 27.9h-32z"/>
<path d="M503.1 1062.0l16 27.9h-32z"/>
<path d="M510.0 1046.9l16 27.9h-32z"/>
<path d="M523.0 1011.6l16 27.9h-32z"/>
<path d="M529.3 987.3l16 27.9h-32z"/>
<path d="M542.4 959.1l16 27.9h-32z"/>
<path d="M548.9 924.6l16 27.9h-32z"/>
<path d="M555.2 904.0l16 27.9h-32z"/>
<path d="M571.1 905.6l16 27.9h-32z"/>
<path d="M583.0 899.4l16 27.9h-32z"/>
<path d="M595.2 889.7l16 27.9h-32z"/>
<path d="M605.0 874.4l16 27.9h-32z"/>
<path d="M614.1 857.3l16 27.9h-32z"/>
<path d="M626.9 852.3l16 27.9h-32z"/>
<path d="M636.7 844.5l16 27.9h-32z"/>
<path d="M644.4 847.9l16 27.9h-32z"/>
<path d="M652.0 839.4l16 27.9h-32z"/>
<path d="M660.3 841.4l16 27.9h-32z"/>
<path d="M668.6 831.4l16 27.9h-32z"/>
<path d="M679.5 826.9l16 27.9h-32z"/>
<path d="M690.4 810.3l16 27.9h-32z"/>
<path d="M702.3 809.1l16 27.9h-32z"/>
<path d="M714.2 796.0l16 27.9h-32z"/>
<path d="M725.1 803.7l16 27.9h-32z"/>
<path d="M736.0 799.4l16 27.9h-32z"/>
<path d="M747.2 801.6l16 27.9h-32z"/>
<path d="M758.4 791.9l16 27.9h-32z"/>
<path d="M769.6 797.6l16 27.9h-32z"/>
<path d="M780.9 791.3l16 27.9h-32z"/>
<path d="M788.2 796.6l16 27.9h-32z"/>
<path d="M795.5 789.9l16 27.9h-32z"/>
<path d="M802.9 794.5l16 27.9h-32z"/>
<path d="M810.2 787.2l16 27.9h-32z"/>
<path d="M821.1 788.8l16 27.9h-32z"/>
<path d="M832.0 778.4l16 27.9h-32z"/>
<path d="M843.5 778.9l16 27.9h-32z"/>
<path d="M854.9 767.4l16 27.9h-32z"/>
<path d="M859.4 768.5l16 27.9h-32z"/>
<path d="M869.6 776.1l16 27.9h-32z"/>
<path d="M879.8 778.7l16 27.9h-32z"/>
<path d="M886.6 777.6l16 27.9h-32z"/>
<path d="M898.5 776.1l16 27.9h-32z"/>
<path d="M910.5 769.6l16 27.9h-32z"/>
<path d="M916.1 770.8l16 27.9h-32z"/>
<path d="M929.7 762.8l16 27.9h-32z"/>
<path d="M939.4 763.4l16 27.9h-32z"/>
<path d="M949.0 759.0l16 27.9h-32z"/>
<path d="M955.8 759.0l16 27.9h-32z"/>
<path d="M968.3 760.4l16 27.9h-32z"/>
<path d="M980.8 756.7l16 27.9h-32z"/>
<path d="M995.5 759.4l16 27.9h-32z"/>
<path d="M1009.2 758.3l16 27.9h-32z"/>
<path d="M1021.6 757.1l16 27.9h-32z"/>
<path d="M1027.3 756.0l16 27.9h-32z"/>
<path d="M1036.4 753.1l16 27.9h-32z"/>
<path d="M1042.1 752.6l16 27.9h-32z"/>
<path d="M1056.8 749.2l16 27.9h-32z"/>
<path d="M1072.7 752.6l16 27.9h-32z"/>
<path d="M1079.5 752.2l16 27.9h-32z"/>
<path d="M1086.3 752.6l16 27.9h-32z"/>
<path d="M1096.5 755.6l16 27.9h-32z"/>
<path d="M1106.7 753.7l16 27.9h-32z"/>
<path d="M1113.5 756.0l16 27.9h-32z"/>
<path d="M1129.4 750.3l16 27.9h-32z"/>
<path d="M1140.7 751.5l16 27.9h-32z"/>
<path d="M1147.6 750.8l16 27.9h-32z"/>
<path d="M1156.6 747.6l16 27.9h-32z"/>
<path d="M1170.2 750.8l16 27.9h-32z"/>
<path d="M1177.1 750.8l16 27.9h-32z"/>
<path d="M1190.9 751.3l16 27.9h-32z"/>
<path d="M1205.4 749.0l16 27.9h-32z"/>
<path d="M1215.8 751.8l16 27.9h-32z"/>
<path d="M1226.3 749.5l16 27.9h-32z"/>
<path d="M1233.5 749.5l16 27.9h-32z"/>
<path d="M1249.4 744.5l16 27.9h-32z"/>
<path d="M1254.4 744.5l16 27.9h-32z"/>
<path d="M1262.1 743.4l16 27.9h-32z"/>
<path d="M1274.4 743.1l16 27.9h-32z"/>
<path d="M1287.6 746.1l16 27.9h-32z"/>
<path d="M1300.7 744.2l16 27.9h-32z"/>
<path d="M1305.2 744.2l16 27.9h-32z"/>
<path d="M1317.0 745.2l16 27.9h-32z"/>
<path d="M1328.8 741.3l16 27.9h-32z"/>
<path d="M1335.2 740.4l16 27.9h-32z"/>
<path d="M1349.7 739.5l16 27.9h-32z"/>
<path d="M1370.7 739.5l16 27.9h-32z"/>
<path d="M1377.7 736.9l16 27.9h-32z"/>
<path d="M1393.7 739.3l16 27.9h-32z"/>
<path d="M1398.7 737.0l16 27.9h-32z"/>
<path d="M1406.4 737.7l16 27.9h-32z"/>
<path d="M1418.7 739.0l16 27.9h-32z"/>
<path d="M1440.7 736.8l16 27.9h-32z"/>
<path d="M1445.2 739.0l16 27.9h-32z"/>
<path d="M1465.2 737.1l16 27.9h-32z"/>
<path d="M1471.6 738.9l16 27.9h-32z"/>
<path d="M1482.6 738.8l16 27.9h-32z"/>
<path d="M1500.6 737.2l16 27.9h-32z"/>
<path d="M1509.6 735.3l16 27.9h-32z"/>
<path d="M1524.1 738.7l16 27.9h-32z"/>
<path d="M1545.1 738.2l16 27.9h-32z"/>
<path d="M1552.1 736.3l16 27.9h-32z"/>
<path d="M1568.1 734.8l16 27.9h-32z"/>
<path d="M1573.1 736.6l16 27.9h-32z"/>
<path d="M1580.8 737.5l16 27.9h-32z"/>
<path d="M1593.1 734.8l16 27.9h-32z"/>
<path d="M1615.1 739.4l16 27.9h-32z"/>
<path d="M1619.6 735.6l16 27.9h-32z"/>
<path d="M1630.0 737.4l16 27.9h-32z"/>
</g>
<g fill="#00AC66" stroke="none">
<path d="M241.0 1201.8 L247.5 1200.2 L254.5 1203.8 L259.5 1205.0 L266.9 1206.5 L273.4 1208.4 L279.9 1214.4 L286.4 1206.6 L291.0 1213.6 L294.7 1206.6 L306.7 1160.8 L316.9 1107.0 L325.2 1061.2 L330.0 1032.7 L338.9 996.6 L341.9 985.0 L348.3 959.5 L350.2 953.6 L355.2 938.6 L364.2 925.2 L372.5 918.0 L381.5 915.8 L388.8 921.0 L399.9 936.0 L406.8 948.8 L412.0 960.5 L421.6 990.8 L427.1 1011.6 L436.9 1048.8 L444.7 1086.0 L458.0 1109.0 L471.1 1130.1 L471.7 1146.4 L472.5 1162.2 L480.5 1160.0 L487.1 1144.2 L494.6 1127.5 L501.1 1108.4 L509.0 1084.7 L517.2 1060.6 L526.3 1033.5 L535.0 1012.0 L543.3 992.5 L550.9 978.1 L558.4 964.6 L562.2 957.0 L566.7 948.7 L570.5 943.5 L580.3 931.4 L589.3 921.6 L595.4 914.0 L599.9 909.5 L613.5 897.5 L624.0 889.2 L633.1 883.9 L642.1 880.1 L651.2 877.1 L659.6 873.0 L667.7 868.3 L675.9 864.1 L684.1 860.9 L692.2 858.1 L700.4 855.5 L708.6 852.9 L716.7 850.2 L724.9 847.9 L733.1 846.4 L741.2 845.3 L749.4 844.4 L757.6 843.6 L765.7 842.7 L773.9 841.8 L782.1 840.8 L790.2 839.8 L798.4 839.0 L806.6 838.3 L814.7 837.7 L822.9 837.1 L831.1 836.6 L839.2 836.1 L847.4 835.6 L855.6 835.2 L863.7 834.8 L871.9 834.4 L880.1 834.0 L888.2 833.6 L896.4 833.3 L904.6 832.9 L912.7 832.6 L920.9 832.3 L929.1 832.0 L937.2 831.7 L945.4 831.4 L953.6 831.1 L961.7 830.8 L969.9 830.4 L978.1 830.1 L986.2 829.6 L994.4 829.2 L1002.6 828.8 L1010.7 828.3 L1018.9 827.8 L1027.1 827.4 L1035.2 826.9 L1043.4 826.5 L1051.6 826.1 L1059.8 825.7 L1067.9 825.3 L1076.1 825.0 L1084.3 824.6 L1092.4 824.3 L1100.6 824.0 L1108.8 823.7 L1116.9 823.5 L1125.1 823.2 L1133.3 822.9 L1141.4 822.6 L1149.6 822.2 L1157.8 821.9 L1165.9 821.5 L1174.1 821.1 L1182.3 820.7 L1190.4 820.2 L1198.6 819.7 L1206.8 819.1 L1214.9 818.6 L1223.1 817.9 L1231.3 817.3 L1239.4 816.6 L1247.6 815.9 L1255.8 815.2 L1263.9 814.4 L1272.1 813.6 L1280.3 812.8 L1288.4 811.9 L1296.6 811.1 L1304.8 810.1 L1312.9 809.2 L1321.1 808.2 L1329.3 807.1 L1337.4 806.0 L1345.6 804.9 L1353.8 803.7 L1361.9 802.4 L1370.1 801.1 L1378.3 799.7 L1386.4 798.3 L1394.6 796.8 L1402.8 795.2 L1410.9 793.5 L1419.1 791.7 L1427.3 789.6 L1435.4 787.4 L1443.6 785.0 L1451.8 782.5 L1459.9 779.9 L1468.1 777.1 L1476.3 774.4 L1484.5 771.6 L1492.6 768.8 L1500.8 765.7 L1509.0 762.4 L1517.1 758.9 L1525.3 755.3 L1533.5 751.9 L1541.6 748.8 L1549.8 746.0 L1558.0 743.3 L1566.1 740.5 L1574.3 737.8 L1582.5 735.4 L1590.6 733.4 L1598.8 732.1 L1607.0 731.4 L1615.1 731.1 L1623.3 730.9 L1631.5 730.8" fill="none" stroke="#00AC66" stroke-width="7" stroke-linejoin="round" stroke-linecap="round"/>
<path d="M241.0 1220.4l16 -27.9h-32z"/>
<path d="M247.5 1218.8l16 -27.9h-32z"/>
<path d="M254.5 1222.4l16 -27.9h-32z"/>
<path d="M259.5 1223.6l16 -27.9h-32z"/>
<path d="M266.9 1225.1l16 -27.9h-32z"/>
<path d="M273.4 1227.0l16 -27.9h-32z"/>
<path d="M279.9 1233.0l16 -27.9h-32z"/>
<path d="M286.4 1225.2l16 -27.9h-32z"/>
<path d="M291.0 1232.2l16 -27.9h-32z"/>
<path d="M294.7 1225.2l16 -27.9h-32z"/>
<path d="M306.7 1179.4l16 -27.9h-32z"/>
<path d="M316.9 1125.6l16 -27.9h-32z"/>
<path d="M325.2 1079.8l16 -27.9h-32z"/>
<path d="M330.0 1051.3l16 -27.9h-32z"/>
<path d="M338.9 1015.2l16 -27.9h-32z"/>
<path d="M341.9 1003.6l16 -27.9h-32z"/>
<path d="M348.3 978.1l16 -27.9h-32z"/>
<path d="M350.2 972.2l16 -27.9h-32z"/>
<path d="M355.2 957.2l16 -27.9h-32z"/>
<path d="M364.2 943.8l16 -27.9h-32z"/>
<path d="M372.5 936.6l16 -27.9h-32z"/>
<path d="M381.5 934.4l16 -27.9h-32z"/>
<path d="M388.8 939.6l16 -27.9h-32z"/>
<path d="M399.9 954.6l16 -27.9h-32z"/>
<path d="M406.8 967.4l16 -27.9h-32z"/>
<path d="M412.0 979.1l16 -27.9h-32z"/>
<path d="M421.6 1009.4l16 -27.9h-32z"/>
<path d="M427.1 1030.2l16 -27.9h-32z"/>
<path d="M436.9 1067.4l16 -27.9h-32z"/>
<path d="M444.7 1104.6l16 -27.9h-32z"/>
<path d="M458.0 1127.6l16 -27.9h-32z"/>
<path d="M471.1 1148.7l16 -27.9h-32z"/>
<path d="M471.7 1165.0l16 -27.9h-32z"/>
<path d="M472.5 1180.8l16 -27.9h-32z"/>
<path d="M480.5 1178.6l16 -27.9h-32z"/>
<path d="M487.1 1162.8l16 -27.9h-32z"/>
<path d="M494.6 1146.1l16 -27.9h-32z"/>
<path d="M501.1 1127.0l16 -27.9h-32z"/>
<path d="M509.0 1103.3l16 -27.9h-32z"/>
<path d="M517.2 1079.2l16 -27.9h-32z"/>
<path d="M526.3 1052.1l16 -27.9h-32z"/>
<path d="M535.0 1030.6l16 -27.9h-32z"/>
<path d="M543.3 1011.1l16 -27.9h-32z"/>
<path d="M550.9 996.7l16 -27.9h-32z"/>
<path d="M558.4 983.2l16 -27.9h-32z"/>
<path d="M562.2 975.6l16 -27.9h-32z"/>
<path d="M566.7 967.3l16 -27.9h-32z"/>
<path d="M570.5 962.1l16 -27.9h-32z"/>
<path d="M580.3 950.0l16 -27.9h-32z"/>
<path d="M589.3 940.2l16 -27.9h-32z"/>
<path d="M595.4 932.6l16 -27.9h-32z"/>
<path d="M599.9 928.1l16 -27.9h-32z"/>
<path d="M613.5 916.1l16 -27.9h-32z"/>
<path d="M624.0 907.8l16 -27.9h-32z"/>
<path d="M633.1 902.5l16 -27.9h-32z"/>
<path d="M642.1 898.7l16 -27.9h-32z"/>
<path d="M651.2 895.7l16 -27.9h-32z"/>
<path d="M659.6 891.6l16 -27.9h-32z"/>
<path d="M667.7 886.9l16 -27.9h-32z"/>
<path d="M675.9 882.7l16 -27.9h-32z"/>
<path d="M684.1 879.5l16 -27.9h-32z"/>
<path d="M692.2 876.7l16 -27.9h-32z"/>
<path d="M700.4 874.1l16 -27.9h-32z"/>
<path d="M708.6 871.5l16 -27.9h-32z"/>
<path d="M716.7 868.8l16 -27.9h-32z"/>
<path d="M724.9 866.5l16 -27.9h-32z"/>
<path d="M733.1 865.0l16 -27.9h-32z"/>
<path d="M741.2 863.9l16 -27.9h-32z"/>
<path d="M749.4 863.0l16 -27.9h-32z"/>
<path d="M757.6 862.2l16 -27.9h-32z"/>
<path d="M765.7 861.3l16 -27.9h-32z"/>
<path d="M773.9 860.4l16 -27.9h-32z"/>
<path d="M782.1 859.4l16 -27.9h-32z"/>
<path d="M790.2 858.4l16 -27.9h-32z"/>
<path d="M798.4 857.6l16 -27.9h-32z"/>
<path d="M806.6 856.9l16 -27.9h-32z"/>
<path d="M814.7 856.3l16 -27.9h-32z"/>
<path d="M822.9 855.7l16 -27.9h-32z"/>
<path d="M831.1 855.2l16 -27.9h-32z"/>
<path d="M839.2 854.7l16 -27.9h-32z"/>
<path d="M847.4 854.2l16 -27.9h-32z"/>
<path d="M855.6 853.8l16 -27.9h-32z"/>
<path d="M863.7 853.4l16 -27.9h-32z"/>
<path d="M871.9 853.0l16 -27.9h-32z"/>
<path d="M880.1 852.6l16 -27.9h-32z"/>
<path d="M888.2 852.2l16 -27.9h-32z"/>
<path d="M896.4 851.9l16 -27.9h-32z"/>
<path d="M904.6 851.5l16 -27.9h-32z"/>
<path d="M912.7 851.2l16 -27.9h-32z"/>
<path d="M920.9 850.9l16 -27.9h-32z"/>
<path d="M929.1 850.6l16 -27.9h-32z"/>
<path d="M937.2 850.3l16 -27.9h-32z"/>
<path d="M945.4 850.0l16 -27.9h-32z"/>
<path d="M953.6 849.7l16 -27.9h-32z"/>
<path d="M961.7 849.4l16 -27.9h-32z"/>
<path d="M969.9 849.0l16 -27.9h-32z"/>
<path d="M978.1 848.7l16 -27.9h-32z"/>
<path d="M986.2 848.2l16 -27.9h-32z"/>
<path d="M994.4 847.8l16 -27.9h-32z"/>
<path d="M1002.6 847.4l16 -27.9h-32z"/>
<path d="M1010.7 846.9l16 -27.9h-32z"/>
<path d="M1018.9 846.4l16 -27.9h-32z"/>
<path d="M1027.1 846.0l16 -27.9h-32z"/>
<path d="M1035.2 845.5l16 -27.9h-32z"/>
<path d="M1043.4 845.1l16 -27.9h-32z"/>
<path d="M1051.6 844.7l16 -27.9h-32z"/>
<path d="M1059.8 844.3l16 -27.9h-32z"/>
<path d="M1067.9 843.9l16 -27.9h-32z"/>
<path d="M1076.1 843.6l16 -27.9h-32z"/>
<path d="M1084.3 843.2l16 -27.9h-32z"/>
<path d="M1092.4 842.9l16 -27.9h-32z"/>
<path d="M1100.6 842.6l16 -27.9h-32z"/>
<path d="M1108.8 842.3l16 -27.9h-32z"/>
<path d="M1116.9 842.1l16 -27.9h-32z"/>
<path d="M1125.1 841.8l16 -27.9h-32z"/>
<path d="M1133.3 841.5l16 -27.9h-32z"/>
<path d="M1141.4 841.2l16 -27.9h-32z"/>
<path d="M1149.6 840.8l16 -27.9h-32z"/>
<path d="M1157.8 840.5l16 -27.9h-32z"/>
<path d="M1165.9 840.1l16 -27.9h-32z"/>
<path d="M1174.1 839.7l16 -27.9h-32z"/>
<path d="M1182.3 839.3l16 -27.9h-32z"/>
<path d="M1190.4 838.8l16 -27.9h-32z"/>
<path d="M1198.6 838.3l16 -27.9h-32z"/>
<path d="M1206.8 837.7l16 -27.9h-32z"/>
<path d="M1214.9 837.2l16 -27.9h-32z"/>
<path d="M1223.1 836.5l16 -27.9h-32z"/>
<path d="M1231.3 835.9l16 -27.9h-32z"/>
<path d="M1239.4 835.2l16 -27.9h-32z"/>
<path d="M1247.6 834.5l16 -27.9h-32z"/>
<path d="M1255.8 833.8l16 -27.9h-32z"/>
<path d="M1263.9 833.0l16 -27.9h-32z"/>
<path d="M1272.1 832.2l16 -27.9h-32z"/>
<path d="M1280.3 831.4l16 -27.9h-32z"/>
<path d="M1288.4 830.5l16 -27.9h-32z"/>
<path d="M1296.6 829.7l16 -27.9h-32z"/>
<path d="M1304.8 828.7l16 -27.9h-32z"/>
<path d="M1312.9 827.8l16 -27.9h-32z"/>
<path d="M1321.1 826.8l16 -27.9h-32z"/>
<path d="M1329.3 825.7l16 -27.9h-32z"/>
<path d="M1337.4 824.6l16 -27.9h-32z"/>
<path d="M1345.6 823.5l16 -27.9h-32z"/>
<path d="M1353.8 822.3l16 -27.9h-32z"/>
<path d="M1361.9 821.0l16 -27.9h-32z"/>
<path d="M1370.1 819.7l16 -27.9h-32z"/>
<path d="M1378.3 818.3l16 -27.9h-32z"/>
<path d="M1386.4 816.9l16 -27.9h-32z"/>
<path d="M1394.6 815.4l16 -27.9h-32z"/>
<path d="M1402.8 813.8l16 -27.9h-32z"/>
<path d="M1410.9 812.1l16 -27.9h-32z"/>
<path d="M1419.1 810.3l16 -27.9h-32z"/>
<path d="M1427.3 808.2l16 -27.9h-32z"/>
<path d="M1435.4 806.0l16 -27.9h-32z"/>
<path d="M1443.6 803.6l16 -27.9h-32z"/>
<path d="M1451.8 801.1l16 -27.9h-32z"/>
<path d="M1459.9 798.5l16 -27.9h-32z"/>
<path d="M1468.1 795.7l16 -27.9h-32z"/>
<path d="M1476.3 793.0l16 -27.9h-32z"/>
<path d="M1484.5 790.2l16 -27.9h-32z"/>
<path d="M1492.6 787.4l16 -27.9h-32z"/>
<path d="M1500.8 784.3l16 -27.9h-32z"/>
<path d="M1509.0 781.0l16 -27.9h-32z"/>
<path d="M1517.1 777.5l16 -27.9h-32z"/>
<path d="M1525.3 773.9l16 -27.9h-32z"/>
<path d="M1533.5 770.5l16 -27.9h-32z"/>
<path d="M1541.6 767.4l16 -27.9h-32z"/>
<path d="M1549.8 764.6l16 -27.9h-32z"/>
<path d="M1558.0 761.9l16 -27.9h-32z"/>
<path d="M1566.1 759.1l16 -27.9h-32z"/>
<path d="M1574.3 756.4l16 -27.9h-32z"/>
<path d="M1582.5 754.0l16 -27.9h-32z"/>
<path d="M1590.6 752.0l16 -27.9h-32z"/>
<path d="M1598.8 750.7l16 -27.9h-32z"/>
<path d="M1607.0 750.0l16 -27.9h-32z"/>
<path d="M1615.1 749.7l16 -27.9h-32z"/>
<path d="M1623.3 749.5l16 -27.9h-32z"/>
<path d="M1631.5 749.4l16 -27.9h-32z"/>
</g>
<g fill="#C378E2" stroke="none">
<path d="M242.4 156.4 L247.3 193.8 L251.2 225.7 L252.6 251.8 L258.8 332.6 L263.5 410.8 L271.6 560.0 L282.5 787.1 L287.7 902.8 L295.4 1014.8 L307.8 968.6 L318.0 905.3 L325.0 871.4 L338.0 865.2 L348.8 909.8 L355.0 950.5 L360.5 964.9 L369.6 1006.4 L376.5 1033.3 L386.1 1059.6 L396.0 1089.0 L405.8 1118.0 L414.6 1146.4 L426.7 1168.3 L435.5 1180.4 L456.6 1109.0 L471.7 1045.4 L473.9 1030.0 L493.0 945.6 L502.4 903.5 L521.9 839.5 L536.7 809.4 L557.7 775.1 L566.5 772.4 L586.7 772.0 L604.5 776.0 L622.0 778.2 L634.4 777.8 L647.5 777.1 L655.8 776.0 L668.3 772.0 L686.9 764.8 L704.0 759.7 L723.9 755.5 L740.1 756.6 L760.9 761.6 L785.5 769.9 L802.7 776.0 L820.7 782.5 L836.4 788.4 L851.1 793.9 L869.1 800.9 L879.2 804.9 L893.9 810.8 L909.7 817.3 L928.6 825.1 L937.8 829.1 L956.7 837.5 L968.5 842.9 L987.3 852.0 L998.3 857.7 L1017.2 867.8 L1029.0 874.3 L1047.9 885.1 L1058.9 891.6 L1077.8 902.8 L1089.6 910.0 L1108.4 921.7 L1119.4 928.8 L1138.3 941.1 L1150.1 948.9 L1169.0 961.7 L1180.0 969.3 L1187.0 974.2 L1203.9 986.4 L1222.8 1000.5 L1238.6 1012.4 L1257.4 1026.5 L1276.3 1039.9 L1295.1 1052.7 L1306.8 1060.5 L1313.7 1065.1 L1330.1 1075.7 L1348.9 1087.6 L1361.6 1095.3 L1377.9 1104.8 L1392.6 1112.9 L1411.5 1123.0 L1427.2 1131.1 L1443.2 1139.1 L1458.7 1146.7 L1477.6 1155.6 L1490.3 1161.5 L1505.2 1168.3 L1517.9 1174.1 L1534.2 1181.3 L1543.2 1185.1 L1555.9 1190.4 L1566.5 1194.5 L1585.4 1201.4 L1601.8 1206.8 L1617.0 1211.4 L1624.0 1213.5 L1630.0 1215.1" fill="none" stroke="#C378E2" stroke-width="7" stroke-linejoin="round" stroke-linecap="round"/>
<path d="M240.8 139.8h3.2l15.5 16.6l-15.5 16.6h-3.2l-15.5 -16.6z"/>
<path d="M245.7 177.2h3.2l15.5 16.6l-15.5 16.6h-3.2l-15.5 -16.6z"/>
<path d="M249.6 209.1h3.2l15.5 16.6l-15.5 16.6h-3.2l-15.5 -16.6z"/>
<path d="M251.0 235.2h3.2l15.5 16.6l-15.5 16.6h-3.2l-15.5 -16.6z"/>
<path d="M257.2 316.0h3.2l15.5 16.6l-15.5 16.6h-3.2l-15.5 -16.6z"/>
<path d="M261.9 394.2h3.2l15.5 16.6l-15.5 16.6h-3.2l-15.5 -16.6z"/>
<path d="M270.0 543.4h3.2l15.5 16.6l-15.5 16.6h-3.2l-15.5 -16.6z"/>
<path d="M280.9 770.5h3.2l15.5 16.6l-15.5 16.6h-3.2l-15.5 -16.6z"/>
<path d="M286.1 886.2h3.2l15.5 16.6l-15.5 16.6h-3.2l-15.5 -16.6z"/>
<path d="M293.8 998.2h3.2l15.5 16.6l-15.5 16.6h-3.2l-15.5 -16.6z"/>
<path d="M306.2 952.0h3.2l15.5 16.6l-15.5 16.6h-3.2l-15.5 -16.6z"/>
<path d="M316.4 888.7h3.2l15.5 16.6l-15.5 16.6h-3.2l-15.5 -16.6z"/>
<path d="M323.4 854.8h3.2l15.5 16.6l-15.5 16.6h-3.2l-15.5 -16.6z"/>
<path d="M336.4 848.6h3.2l15.5 16.6l-15.5 16.6h-3.2l-15.5 -16.6z"/>
<path d="M347.2 893.2h3.2l15.5 16.6l-15.5 16.6h-3.2l-15.5 -16.6z"/>
<path d="M353.4 933.9h3.2l15.5 16.6l-15.5 16.6h-3.2l-15.5 -16.6z"/>
<path d="M358.9 948.3h3.2l15.5 16.6l-15.5 16.6h-3.2l-15.5 -16.6z"/>
<path d="M368.0 989.8h3.2l15.5 16.6l-15.5 16.6h-3.2l-15.5 -16.6z"/>
<path d="M374.9 1016.7h3.2l15.5 16.6l-15.5 16.6h-3.2l-15.5 -16.6z"/>
<path d="M384.5 1043.0h3.2l15.5 16.6l-15.5 16.6h-3.2l-15.5 -16.6z"/>
<path d="M394.4 1072.4h3.2l15.5 16.6l-15.5 16.6h-3.2l-15.5 -16.6z"/>
<path d="M404.2 1101.4h3.2l15.5 16.6l-15.5 16.6h-3.2l-15.5 -16.6z"/>
<path d="M413.0 1129.8h3.2l15.5 16.6l-15.5 16.6h-3.2l-15.5 -16.6z"/>
<path d="M425.1 1151.7h3.2l15.5 16.6l-15.5 16.6h-3.2l-15.5 -16.6z"/>
<path d="M433.9 1163.8h3.2l15.5 16.6l-15.5 16.6h-3.2l-15.5 -16.6z"/>
<path d="M455.0 1092.4h3.2l15.5 16.6l-15.5 16.6h-3.2l-15.5 -16.6z"/>
<path d="M470.1 1028.8h3.2l15.5 16.6l-15.5 16.6h-3.2l-15.5 -16.6z"/>
<path d="M472.3 1013.4h3.2l15.5 16.6l-15.5 16.6h-3.2l-15.5 -16.6z"/>
<path d="M491.4 929.0h3.2l15.5 16.6l-15.5 16.6h-3.2l-15.5 -16.6z"/>
<path d="M500.8 886.9h3.2l15.5 16.6l-15.5 16.6h-3.2l-15.5 -16.6z"/>
<path d="M520.3 822.9h3.2l15.5 16.6l-15.5 16.6h-3.2l-15.5 -16.6z"/>
<path d="M535.1 792.8h3.2l15.5 16.6l-15.5 16.6h-3.2l-15.5 -16.6z"/>
<path d="M556.1 758.5h3.2l15.5 16.6l-15.5 16.6h-3.2l-15.5 -16.6z"/>
<path d="M564.9 755.8h3.2l15.5 16.6l-15.5 16.6h-3.2l-15.5 -16.6z"/>
<path d="M585.1 755.4h3.2l15.5 16.6l-15.5 16.6h-3.2l-15.5 -16.6z"/>
<path d="M602.9 759.4h3.2l15.5 16.6l-15.5 16.6h-3.2l-15.5 -16.6z"/>
<path d="M620.4 761.6h3.2l15.5 16.6l-15.5 16.6h-3.2l-15.5 -16.6z"/>
<path d="M632.8 761.2h3.2l15.5 16.6l-15.5 16.6h-3.2l-15.5 -16.6z"/>
<path d="M645.9 760.5h3.2l15.5 16.6l-15.5 16.6h-3.2l-15.5 -16.6z"/>
<path d="M654.2 759.4h3.2l15.5 16.6l-15.5 16.6h-3.2l-15.5 -16.6z"/>
<path d="M666.7 755.4h3.2l15.5 16.6l-15.5 16.6h-3.2l-15.5 -16.6z"/>
<path d="M685.3 748.2h3.2l15.5 16.6l-15.5 16.6h-3.2l-15.5 -16.6z"/>
<path d="M702.4 743.1h3.2l15.5 16.6l-15.5 16.6h-3.2l-15.5 -16.6z"/>
<path d="M722.3 738.9h3.2l15.5 16.6l-15.5 16.6h-3.2l-15.5 -16.6z"/>
<path d="M738.5 740.0h3.2l15.5 16.6l-15.5 16.6h-3.2l-15.5 -16.6z"/>
<path d="M759.3 745.0h3.2l15.5 16.6l-15.5 16.6h-3.2l-15.5 -16.6z"/>
<path d="M783.9 753.3h3.2l15.5 16.6l-15.5 16.6h-3.2l-15.5 -16.6z"/>
<path d="M801.1 759.4h3.2l15.5 16.6l-15.5 16.6h-3.2l-15.5 -16.6z"/>
<path d="M819.1 765.9h3.2l15.5 16.6l-15.5 16.6h-3.2l-15.5 -16.6z"/>
<path d="M834.8 771.8h3.2l15.5 16.6l-15.5 16.6h-3.2l-15.5 -16.6z"/>
<path d="M849.5 777.3h3.2l15.5 16.6l-15.5 16.6h-3.2l-15.5 -16.6z"/>
<path d="M867.5 784.3h3.2l15.5 16.6l-15.5 16.6h-3.2l-15.5 -16.6z"/>
<path d="M877.6 788.3h3.2l15.5 16.6l-15.5 16.6h-3.2l-15.5 -16.6z"/>
<path d="M892.3 794.2h3.2l15.5 16.6l-15.5 16.6h-3.2l-15.5 -16.6z"/>
<path d="M908.1 800.7h3.2l15.5 16.6l-15.5 16.6h-3.2l-15.5 -16.6z"/>
<path d="M927.0 808.5h3.2l15.5 16.6l-15.5 16.6h-3.2l-15.5 -16.6z"/>
<path d="M936.2 812.5h3.2l15.5 16.6l-15.5 16.6h-3.2l-15.5 -16.6z"/>
<path d="M955.1 820.9h3.2l15.5 16.6l-15.5 16.6h-3.2l-15.5 -16.6z"/>
<path d="M966.9 826.3h3.2l15.5 16.6l-15.5 16.6h-3.2l-15.5 -16.6z"/>
<path d="M985.7 835.4h3.2l15.5 16.6l-15.5 16.6h-3.2l-15.5 -16.6z"/>
<path d="M996.7 841.1h3.2l15.5 16.6l-15.5 16.6h-3.2l-15.5 -16.6z"/>
<path d="M1015.6 851.2h3.2l15.5 16.6l-15.5 16.6h-3.2l-15.5 -16.6z"/>
<path d="M1027.4 857.7h3.2l15.5 16.6l-15.5 16.6h-3.2l-15.5 -16.6z"/>
<path d="M1046.3 868.5h3.2l15.5 16.6l-15.5 16.6h-3.2l-15.5 -16.6z"/>
<path d="M1057.3 875.0h3.2l15.5 16.6l-15.5 16.6h-3.2l-15.5 -16.6z"/>
<path d="M1076.2 886.2h3.2l15.5 16.6l-15.5 16.6h-3.2l-15.5 -16.6z"/>
<path d="M1088.0 893.4h3.2l15.5 16.6l-15.5 16.6h-3.2l-15.5 -16.6z"/>
<path d="M1106.8 905.1h3.2l15.5 16.6l-15.5 16.6h-3.2l-15.5 -16.6z"/>
<path d="M1117.8 912.2h3.2l15.5 16.6l-15.5 16.6h-3.2l-15.5 -16.6z"/>
<path d="M1136.7 924.5h3.2l15.5 16.6l-15.5 16.6h-3.2l-15.5 -16.6z"/>
<path d="M1148.5 932.3h3.2l15.5 16.6l-15.5 16.6h-3.2l-15.5 -16.6z"/>
<path d="M1167.4 945.1h3.2l15.5 16.6l-15.5 16.6h-3.2l-15.5 -16.6z"/>
<path d="M1178.4 952.7h3.2l15.5 16.6l-15.5 16.6h-3.2l-15.5 -16.6z"/>
<path d="M1185.4 957.6h3.2l15.5 16.6l-15.5 16.6h-3.2l-15.5 -16.6z"/>
<path d="M1202.3 969.8h3.2l15.5 16.6l-15.5 16.6h-3.2l-15.5 -16.6z"/>
<path d="M1221.2 983.9h3.2l15.5 16.6l-15.5 16.6h-3.2l-15.5 -16.6z"/>
<path d="M1237.0 995.8h3.2l15.5 16.6l-15.5 16.6h-3.2l-15.5 -16.6z"/>
<path d="M1255.8 1009.9h3.2l15.5 16.6l-15.5 16.6h-3.2l-15.5 -16.6z"/>
<path d="M1274.7 1023.3h3.2l15.5 16.6l-15.5 16.6h-3.2l-15.5 -16.6z"/>
<path d="M1293.5 1036.1h3.2l15.5 16.6l-15.5 16.6h-3.2l-15.5 -16.6z"/>
<path d="M1305.2 1043.9h3.2l15.5 16.6l-15.5 16.6h-3.2l-15.5 -16.6z"/>
<path d="M1312.1 1048.5h3.2l15.5 16.6l-15.5 16.6h-3.2l-15.5 -16.6z"/>
<path d="M1328.5 1059.1h3.2l15.5 16.6l-15.5 16.6h-3.2l-15.5 -16.6z"/>
<path d="M1347.3 1071.0h3.2l15.5 16.6l-15.5 16.6h-3.2l-15.5 -16.6z"/>
<path d="M1360.0 1078.7h3.2l15.5 16.6l-15.5 16.6h-3.2l-15.5 -16.6z"/>
<path d="M1376.3 1088.2h3.2l15.5 16.6l-15.5 16.6h-3.2l-15.5 -16.6z"/>
<path d="M1391.0 1096.3h3.2l15.5 16.6l-15.5 16.6h-3.2l-15.5 -16.6z"/>
<path d="M1409.9 1106.4h3.2l15.5 16.6l-15.5 16.6h-3.2l-15.5 -16.6z"/>
<path d="M1425.6 1114.5h3.2l15.5 16.6l-15.5 16.6h-3.2l-15.5 -16.6z"/>
<path d="M1441.6 1122.5h3.2l15.5 16.6l-15.5 16.6h-3.2l-15.5 -16.6z"/>
<path d="M1457.1 1130.1h3.2l15.5 16.6l-15.5 16.6h-3.2l-15.5 -16.6z"/>
<path d="M1476.0 1139.0h3.2l15.5 16.6l-15.5 16.6h-3.2l-15.5 -16.6z"/>
<path d="M1488.7 1144.9h3.2l15.5 16.6l-15.5 16.6h-3.2l-15.5 -16.6z"/>
<path d="M1503.6 1151.7h3.2l15.5 16.6l-15.5 16.6h-3.2l-15.5 -16.6z"/>
<path d="M1516.3 1157.5h3.2l15.5 16.6l-15.5 16.6h-3.2l-15.5 -16.6z"/>
<path d="M1532.6 1164.7h3.2l15.5 16.6l-15.5 16.6h-3.2l-15.5 -16.6z"/>
<path d="M1541.6 1168.5h3.2l15.5 16.6l-15.5 16.6h-3.2l-15.5 -16.6z"/>
<path d="M1554.3 1173.8h3.2l15.5 16.6l-15.5 16.6h-3.2l-15.5 -16.6z"/>
<path d="M1564.9 1177.9h3.2l15.5 16.6l-15.5 16.6h-3.2l-15.5 -16.6z"/>
<path d="M1583.8 1184.8h3.2l15.5 16.6l-15.5 16.6h-3.2l-15.5 -16.6z"/>
<path d="M1600.2 1190.2h3.2l15.5 16.6l-15.5 16.6h-3.2l-15.5 -16.6z"/>
<path d="M1615.4 1194.8h3.2l15.5 16.6l-15.5 16.6h-3.2l-15.5 -16.6z"/>
<path d="M1622.4 1196.9h3.2l15.5 16.6l-15.5 16.6h-3.2l-15.5 -16.6z"/>
<path d="M1628.4 1198.5h3.2l15.5 16.6l-15.5 16.6h-3.2l-15.5 -16.6z"/>
</g>
</g>
<g fill="#767676"><path d="M1305.5 91.5H1443.5" stroke="#767676" stroke-width="7" stroke-linecap="round" fill="none"/>
<rect x="1363.2" y="79.8" width="23.5" height="23.5"/>
</g>
<text class="tl" transform="translate(1459.5 113.1) scale(1 1.04)">0.1mm</text>
<g fill="#FC3D3D"><path d="M1305.5 168.3H1443.5" stroke="#FC3D3D" stroke-width="7" stroke-linecap="round" fill="none"/>
<circle cx="1375.0" cy="168.3" r="13"/>
</g>
<text class="tl" transform="translate(1459.5 189.9) scale(1 1.04)">0.2mm</text>
<g fill="#006BE0"><path d="M1305.5 244.8H1443.5" stroke="#006BE0" stroke-width="7" stroke-linecap="round" fill="none"/>
<path d="M1375.0 226.2l16 27.9h-32z"/>
</g>
<text class="tl" transform="translate(1459.5 266.4) scale(1 1.04)">0.3mm</text>
<g fill="#00AC66"><path d="M1305.5 321.6H1443.5" stroke="#00AC66" stroke-width="7" stroke-linecap="round" fill="none"/>
<path d="M1375.0 340.2l16 -27.9h-32z"/>
</g>
<text class="tl" transform="translate(1459.5 343.2) scale(1 1.04)">0.4mm</text>
<g fill="#C378E2"><path d="M1305.5 398.4H1443.5" stroke="#C378E2" stroke-width="7" stroke-linecap="round" fill="none"/>
<path d="M1373.4 381.8h3.2l15.5 16.6l-15.5 16.6h-3.2l-15.5 -16.6z"/>
</g>
<text class="tl" transform="translate(1459.5 420.0) scale(1 1.04)">0.5mm</text>
</svg></body></html>
